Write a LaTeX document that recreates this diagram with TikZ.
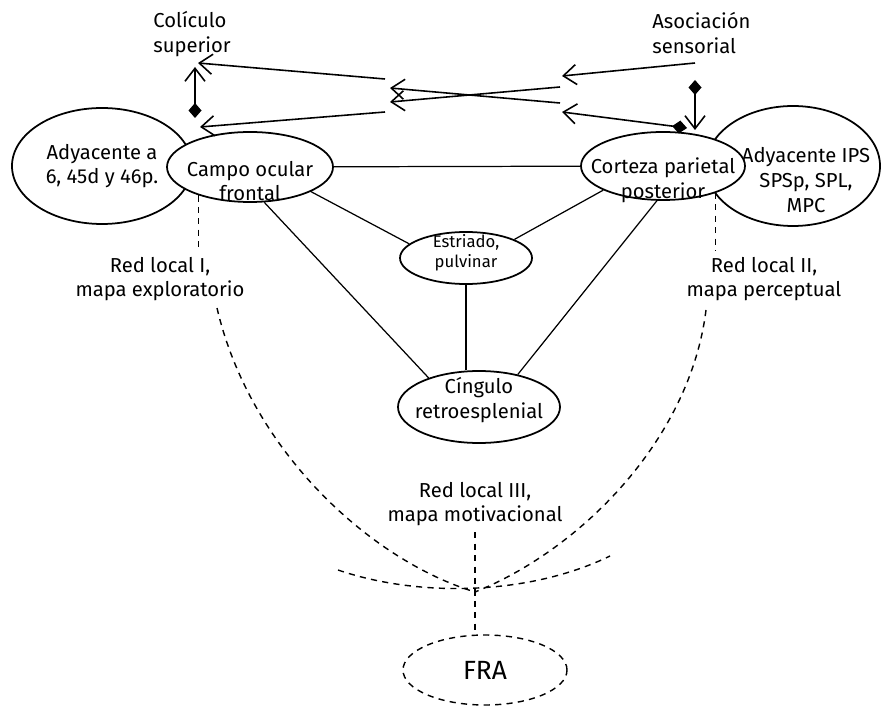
\documentclass[tikz,border=0pt]{standalone}
\usepackage{fontspec}
\setmainfont{Fira Sans}
\usepackage{tikz}
\usetikzlibrary{shapes.geometric,arrows.meta}
\newcommand{\lblfont}{\fontsize{11.5}{14}\selectfont}
\newcommand{\smlfont}{\fontsize{9.5}{11.5}\selectfont}
\tikzset{oval/.style 2 args={ellipse,draw,line width=1pt,fill=white,inner sep=0pt,minimum width=#1,minimum height=#2},
  lbl/.style={align=center,font=\lblfont},
  ln/.style={line width=0.7pt},
  dl/.style={line width=0.8pt,dash pattern=on 3.5pt off 3pt},
  arr/.style={line width=0.9pt,-{Straight Barb[length=2.6mm,width=4mm]}},
  darr/.style={line width=0.9pt,{Diamond[length=3mm,width=2.6mm]}-{Straight Barb[length=2.6mm,width=4mm]}}}

\begin{document}
\begin{tikzpicture}
\useasboundingbox (0,0) rectangle (17.62,14.14);
% side areas first, the main ellipses go over them
\node[oval={3.6cm}{2.32cm},label={[lbl]center:{Adyacente a\\6, 45d y 46p.}}] (adyL) at (2.04,10.82) {};
\node[oval={3.48cm}{2.4cm},label={[lbl,xshift=2.6mm,yshift=-2.8mm]center:{Adyacente IPS\\SPSp, SPL,\\MPC}}] (adyR) at (15.86,10.82) {};
\node[oval={3.32cm}{1.4cm},label={[lbl,yshift=-2.8mm]center:{Campo ocular\\frontal}}] (campo) at (5.00,10.80) {};
\node[oval={3.28cm}{1.36cm},label={[lbl,yshift=-2.8mm]center:{Corteza parietal\\posterior}}] (cort) at (13.26,10.82) {};
\node[oval={2.64cm}{1.04cm},label={[lbl,font=\smlfont,yshift=1mm]center:{Estriado,\\pulvinar}}] (estr) at (9.32,8.98) {};
\node[oval={3.24cm}{1.44cm},label={[lbl,yshift=1.4mm]center:{Cíngulo\\retroesplenial}}] (cing) at (9.58,6.00) {};
\node[oval={3.28cm}{1.4cm},dl,label={[font=\fontsize{15}{18}\selectfont]center:FRA}] (fra) at (9.70,0.74) {};

\node[lbl,align=left,anchor=west,inner xsep=0pt] (colic) at (3.06,13.46) {Colículo\\superior};
\node[lbl,align=left,anchor=west,inner xsep=0pt] (asoc) at (13.04,13.48) {Asociación\\sensorial};
\node[lbl] (redI) at (3.20,8.56) {Red local I,\\mapa exploratorio};
\node[lbl] (redII) at (15.28,8.56) {Red local II,\\mapa perceptual};
\node[lbl] (redIII) at (9.50,4.06) {Red local III,\\mapa motivacional};

% triangle
\draw[ln] (campo) -- (cort);
\draw[ln] (campo.-22) -- (estr.166);
\draw[ln] (cort.-158) -- (estr.21);
\draw[ln] (campo.-68) -- (cing.150);
\draw[ln] (cort.-100) -- (cing.40);
\draw[ln] (estr.south) -- (estr.south |- cing.north);

% local networks
\coordinate (conv) at (9.50,2.30);
\coordinate (dI) at (4.34,7.98);
\coordinate (dII) at (14.12,7.94);
\coordinate (arcL) at (6.76,2.74);
\coordinate (arcR) at (12.20,3.02);
\draw[dl] (campo.-151) -- (campo.-151 |- redI.north);
\draw[dl] (cort.-27) -- (cort.-27 |- redII.north);
\draw[dl] (dI) .. controls (5.00,5.14) and (7.40,2.94) .. (conv);
\draw[dl] (dII) .. controls (13.80,5.34) and (11.60,3.14) .. (conv);
\draw[dl] (arcL) .. controls (8.40,2.18) and (10.60,2.24) .. (arcR);
\draw[dl] (redIII) -- (conv) -- (conv |- fra.north);

% top projections
\coordinate (a1s) at (7.70,12.56); \coordinate (a1e) at (3.96,12.88);
\coordinate (a2s) at (7.70,11.90); \coordinate (a2e) at (4.00,11.60);
\coordinate (x1s) at (11.20,12.08); \coordinate (x1e) at (7.80,12.38);
\coordinate (x2s) at (11.20,12.40); \coordinate (x2e) at (7.80,12.10);
\coordinate (a3s) at (13.90,12.88); \coordinate (a3e) at (11.24,12.62);
\coordinate (a4s) at (13.74,11.58); \coordinate (a4e) at (11.24,11.90);
\coordinate (v1s) at (3.90,11.78); \coordinate (v1e) at (3.90,12.80);
\coordinate (v2s) at (13.90,12.54); \coordinate (v2e) at (13.90,11.54);
\draw[arr] (a1s) -- (a1e);
\draw[arr] (a2s) -- (a2e);
\draw[arr] (x1s) -- (x1e);
\draw[arr] (x2s) -- (x2e);
\draw[arr] (a3s) -- (a3e);
\draw[darr] (a4s) -- (a4e);
\draw[darr] (v1s) -- (v1e);
\draw[darr] (v2s) -- (v2e);
\end{tikzpicture}
\end{document}
